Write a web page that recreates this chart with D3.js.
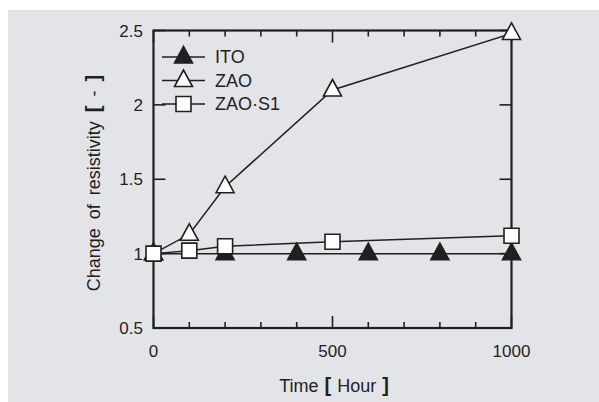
<!DOCTYPE html>
<html>
<head>
<meta charset="utf-8">
<script src="https://cdn.jsdelivr.net/npm/d3@7"></script>
<style>
  html, body { margin: 0; padding: 0; background: #ffffff; }
  svg { display: block; }
  text { font-family: "Liberation Sans", Arial, sans-serif; fill: #231f20; }
</style>
</head>
<body>
<svg id="chart" width="599" height="402"></svg>
<script>
// ---- data ----
const itoHours = [0, 200, 400, 600, 800, 1000];
const itoValues = [1.0, 1.0, 1.0, 1.0, 1.0, 1.0];
const zaoHours = [0, 100, 200, 500, 1000];
const zaoValues = [1.0, 1.13, 1.45, 2.1, 2.48];
const zaoS1Hours = [0, 100, 200, 500, 1000];
const zaoS1Values = [1.0, 1.02, 1.05, 1.08, 1.12];
const seriesNames = ["ITO", "ZAO", "ZAO\u00B7S1"];
const xTickLabels = [0, 500, 1000];
const yTickLabels = [0.5, 1, 1.5, 2, 2.5];

const ink = "#231f20";
const svg = d3.select("#chart");

svg.append("rect").attr("x", 8).attr("y", 10).attr("width", 591).attr("height", 392)
  .attr("fill", "#e3e4e8");

const x = d3.scaleLinear().domain([0, 1000]).range([153.5, 511.5]);
const y = d3.scaleLinear().domain([0.5, 2.5]).range([328, 30.5]);

const g = svg.append("g");

// frame
g.append("rect").attr("x", x(0)).attr("y", y(2.5))
  .attr("width", x(1000) - x(0)).attr("height", y(0.5) - y(2.5))
  .attr("fill", "none").attr("stroke", ink).attr("stroke-width", 2.2);

// x ticks (inward, bottom & top)
const xTicks = d3.range(0, 1001, 100);
const tickLen = v => (v % 500 === 0 ? 12 : 6);
g.append("g").selectAll("line").data(xTicks).join("line")
  .attr("x1", d => x(d)).attr("x2", d => x(d))
  .attr("y1", y(0.5)).attr("y2", d => y(0.5) - tickLen(d))
  .attr("stroke", ink).attr("stroke-width", 1.6);
g.append("g").selectAll("line").data(xTicks).join("line")
  .attr("x1", d => x(d)).attr("x2", d => x(d))
  .attr("y1", y(2.5)).attr("y2", d => y(2.5) + tickLen(d))
  .attr("stroke", ink).attr("stroke-width", 1.6);

// y ticks (inward, left & right)
g.append("g").selectAll("line").data(yTickLabels).join("line")
  .attr("x1", x(0)).attr("x2", x(0) + 12)
  .attr("y1", d => y(d)).attr("y2", d => y(d))
  .attr("stroke", ink).attr("stroke-width", 1.6);
g.append("g").selectAll("line").data(yTickLabels).join("line")
  .attr("x1", x(1000)).attr("x2", x(1000) - 12)
  .attr("y1", d => y(d)).attr("y2", d => y(d))
  .attr("stroke", ink).attr("stroke-width", 1.6);

// tick labels
g.append("g").selectAll("text").data(xTickLabels).join("text")
  .attr("x", d => x(d)).attr("y", 357)
  .attr("text-anchor", "middle").attr("font-size", 17)
  .text(d => d);
g.append("g").selectAll("text").data(yTickLabels).join("text")
  .attr("x", 143).attr("y", d => y(d)).attr("dy", "0.36em")
  .attr("text-anchor", "end").attr("font-size", 17)
  .text(d => d);

// axis titles
const xt = svg.append("text").attr("x", 334).attr("y", 392)
  .attr("text-anchor", "middle").attr("font-size", 18).attr("word-spacing", 1);
xt.append("tspan").text("Time ");
xt.append("tspan").attr("font-weight", "bold").attr("font-size", 20).text("[");
xt.append("tspan").text(" Hour ");
xt.append("tspan").attr("font-weight", "bold").attr("font-size", 20).text("]");

const yt = svg.append("text").attr("transform", "translate(100,183) rotate(-90)")
  .attr("text-anchor", "middle").attr("font-size", 18).attr("word-spacing", 4);
yt.append("tspan").text("Change of resistivity ");
yt.append("tspan").attr("font-weight", "bold").attr("font-size", 20).text("[");
yt.append("tspan").text(" - ");
yt.append("tspan").attr("font-weight", "bold").attr("font-size", 20).text("]");

// markers
const triPath = "M0,-10.5L9,6L-9,6Z";
const sqPath = "M-7.5,-7.5H7.5V7.5H-7.5Z";

const line = d3.line().x(d => x(d[0])).y(d => y(d[1]));
const series = [
  { name: seriesNames[0], pts: d3.zip(itoHours, itoValues), path: triPath, fill: ink },
  { name: seriesNames[1], pts: d3.zip(zaoHours, zaoValues), path: triPath, fill: "#ffffff" },
  { name: seriesNames[2], pts: d3.zip(zaoS1Hours, zaoS1Values), path: sqPath, fill: "#ffffff" }
];

series.forEach(s => {
  g.append("path").datum(s.pts).attr("d", line)
    .attr("fill", "none").attr("stroke", ink).attr("stroke-width", 1.5);
  g.append("g").selectAll("path").data(s.pts).join("path")
    .attr("d", s.path)
    .attr("transform", d => `translate(${x(d[0])},${y(d[1])})`)
    .attr("fill", s.fill).attr("stroke", ink).attr("stroke-width", 1.6);
});

// legend
const legRows = [57, 80.5, 104];
series.forEach((s, i) => {
  const ly = legRows[i];
  svg.append("line").attr("x1", 162).attr("x2", 205).attr("y1", ly).attr("y2", ly)
    .attr("stroke", ink).attr("stroke-width", 1.5);
  svg.append("path").attr("d", s.path).attr("transform", `translate(183.5,${ly})`)
    .attr("fill", s.fill).attr("stroke", ink).attr("stroke-width", 1.6);
  svg.append("text").attr("x", 215).attr("y", ly).attr("dy", "0.36em")
    .attr("font-size", 18).text(s.name);
});
</script>
</body>
</html>
